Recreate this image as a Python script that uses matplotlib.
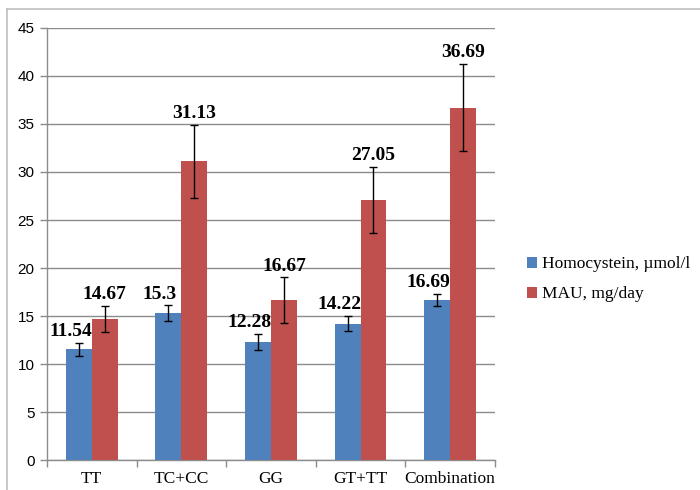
import matplotlib
matplotlib.use("Agg")
import matplotlib.pyplot as plt
import numpy as np
from matplotlib.lines import Line2D

categories = ["TT", "TC+CC", "GG", "GT+TT", "Combination"]
homocystein = [11.54, 15.3, 12.28, 14.22, 16.69]
mau = [14.67, 31.13, 16.67, 27.05, 36.69]
homocystein_err = [0.7, 0.8, 0.85, 0.8, 0.6]
mau_err = [1.35, 3.8, 2.35, 3.45, 4.55]
series_names = ["Homocystein, µmol/l", "MAU, mg/day"]
yticks = [0, 5, 10, 15, 20, 25, 30, 35, 40, 45]

blue = "#4F81BD"
red = "#C0504D"
grid_col = "#8C8C8C"

fig = plt.figure(figsize=(7, 4.9), dpi=100)
ax = fig.add_axes([0.067, 0.061, 0.64, 0.882])

x = np.arange(len(categories))
w = 0.29
b1 = ax.bar(x - w / 2, homocystein, w, color=blue, zorder=3, label=series_names[0])
b2 = ax.bar(x + w / 2, mau, w, color=red, zorder=3, label=series_names[1])
ek = dict(ecolor="black", elinewidth=1.0, capsize=3, capthick=1.0, fmt="none", zorder=4)
ax.errorbar(x - w / 2, homocystein, yerr=homocystein_err, **ek)
ax.errorbar(x + w / 2, mau, yerr=mau_err, **ek)

serif = "Liberation Serif"
for xi, v, e in zip(x - w / 2, homocystein, homocystein_err):
    ax.annotate(f"{v:g}", (xi, v + e), xytext=(-6, 2), textcoords="offset points",
                ha="center", va="bottom", fontsize=14, fontweight="bold", family=serif)
for xi, v, e in zip(x + w / 2, mau, mau_err):
    ax.annotate(f"{v:g}", (xi, v + e), xytext=(0, 2), textcoords="offset points",
                ha="center", va="bottom", fontsize=14, fontweight="bold", family=serif)

ax.set_ylim(0, 45)
ax.set_xlim(-0.5, len(categories) - 0.5)
ax.set_yticks(yticks)
ax.set_yticklabels([str(t) for t in yticks], family="Liberation Sans", fontsize=11)
ax.yaxis.grid(True, color=grid_col, linewidth=1.0, zorder=0)
ax.set_axisbelow(True)

ax.set_xticks(x)
ax.set_xticklabels(categories, family=serif, fontsize=12.5)
ax.tick_params(axis="x", length=0, pad=8)
ax.set_xticks(np.arange(len(categories) + 1) - 0.5, minor=True)
ax.tick_params(axis="x", which="minor", length=5, color=grid_col, width=1)
ax.tick_params(axis="y", length=5, color=grid_col, width=1, pad=4)

for s in ["top", "right"]:
    ax.spines[s].set_visible(False)
for s in ["left", "bottom"]:
    ax.spines[s].set_color(grid_col)
    ax.spines[s].set_linewidth(1.0)

leg = fig.legend(handles=[b1, b2], loc="center left", bbox_to_anchor=(0.73, 0.43),
                 frameon=False, prop={"family": serif, "size": 12.5},
                 handlelength=0.6, handleheight=0.6, handletextpad=0.3, labelspacing=0.8)

# outer chart border (top and left visible)
fig.lines.append(Line2D([0.010, 1.0], [0.982, 0.982], transform=fig.transFigure,
                        color="#BFBFBF", linewidth=1.2))
fig.lines.append(Line2D([0.010, 0.010], [0.0, 0.982], transform=fig.transFigure,
                        color="#BFBFBF", linewidth=1.2))

fig.savefig("out.png", dpi=100)
